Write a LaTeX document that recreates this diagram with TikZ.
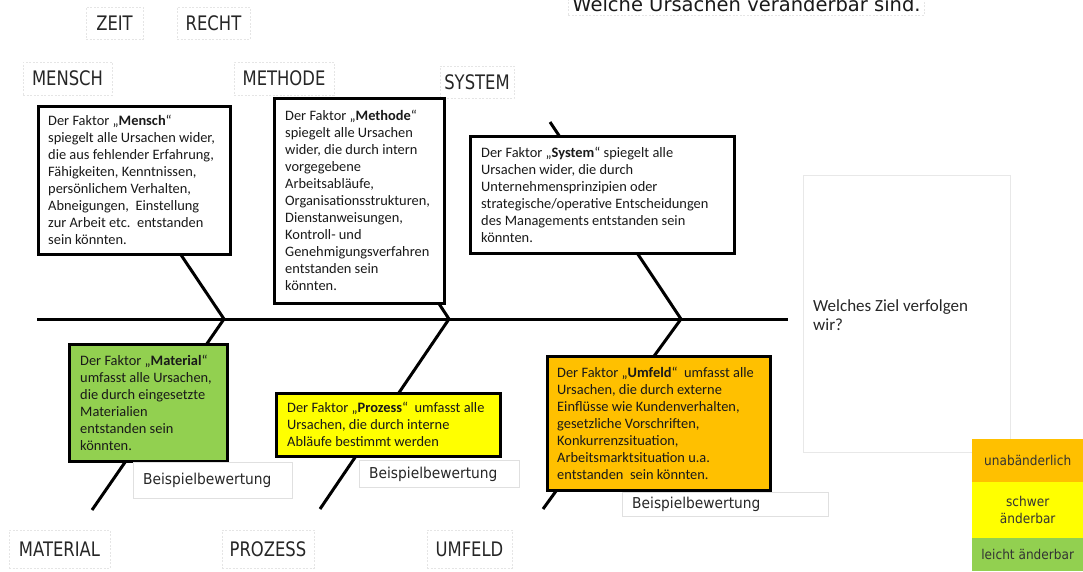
\documentclass[tikz,border=0pt]{standalone}
\usepackage{fontspec}
\setmainfont{Carlito}
\newfontfamily\labfont[FakeStretch=0.82]{DejaVu Sans}
\newfontfamily\bwfont[FakeStretch=0.92]{DejaVu Sans}
\newfontfamily\legfont[FakeStretch=0.9]{DejaVu Sans}
\newfontfamily\topfont{DejaVu Sans}
\definecolor{matgreen}{HTML}{92D050}
\definecolor{proyellow}{HTML}{FFFF00}
\definecolor{umforange}{HTML}{FFC000}
\tikzset{
  bone/.style={line width=3pt, black},
  fbox/.style={draw=black, line width=2.6pt, rectangle, inner sep=0pt, anchor=north west, fill=white},
  btext/.style={anchor=west, align=left, inner sep=0pt, text=black!90, font=\fontsize{14.4}{17}\selectfont},
  lab/.style={draw=black!10, line width=0.8pt, dash pattern=on 2pt off 1.5pt, rectangle, inner sep=0pt, text=black!85, font=\labfont\fontsize{20}{20}\selectfont},
  bwbox/.style={draw=black!12, line width=0.8pt, rectangle, inner sep=0pt, anchor=north west},
  bwtext/.style={anchor=west, inner sep=0pt, text=black!85, font=\bwfont\fontsize{15}{17}\selectfont},
  leg/.style={rectangle, inner sep=0pt, anchor=north west, minimum width=111pt, align=center, text=black!80, font=\legfont\fontsize{13.5}{17}\selectfont},
}
\begin{document}
\begin{tikzpicture}[x=1pt,y=-1pt]
\useasboundingbox (0,0) rectangle (1083,571);
% title (cut off at top, as in the reference)
\node[anchor=base west, draw=black!10, line width=0.8pt, dash pattern=on 2pt off 1.5pt, inner sep=4pt, font=\topfont\fontsize{19.5}{20}\selectfont, text=black!90] (ttl) at (568,11) {Welche Ursachen veränderbar sind.};
% spine and bones
\coordinate (sL) at (37,319);
\coordinate (sR) at (788,319);
\coordinate (j1) at (224,319);
\coordinate (j2) at (449,319);
\coordinate (j3) at (681,319);
\coordinate (u1) at (171,240);
\coordinate (u2) at (430,290);
\coordinate (u3) at (550,122);
\coordinate (l1) at (92,510);
\coordinate (l2) at (320,509);
\coordinate (l3) at (543,509);
\draw[bone] (sL) -- (sR);
\draw[bone] (u1) -- (j1) -- (l1);
\draw[bone] (u2) -- (j2) -- (l2);
\draw[bone] (u3) -- (j3) -- (l3);
% category labels
\node[lab, minimum width=57pt, minimum height=32pt] (zeit) at (114.5,23) {ZEIT};
\node[lab, minimum width=73pt, minimum height=32pt] (recht) at (213.5,23) {RECHT};
\node[lab, minimum width=89pt, minimum height=33pt] (menschl) at (67.5,78.5) {MENSCH};
\node[lab, minimum width=100pt, minimum height=33pt] (methodel) at (284,78.5) {METHODE};
\node[lab, minimum width=74pt, minimum height=32pt] (systeml) at (477,82) {SYSTEM};
\node[lab, minimum width=101pt, minimum height=38pt] (materiall) at (59.5,549) {MATERIAL};
\node[lab, minimum width=92pt, minimum height=38pt] (prozessl) at (268,549) {PROZESS};
\node[lab, minimum width=85pt, minimum height=38pt] (umfeldl) at (469.5,549) {UMFELD};
% Mensch
\node[fbox, minimum width=192pt, minimum height=148pt] (mensch) at (37,105) {};
\node[btext] (menscht) at ([xshift=11pt]mensch.west) {Der Faktor „\textbf{Mensch}“\\spiegelt alle Ursachen wider,\\die aus fehlender Erfahrung,\\Fähigkeiten, Kenntnissen,\\persönlichem Verhalten,\\Abneigungen,\ \ Einstellung\\zur Arbeit etc.\ \ entstanden\\sein könnten.};
% Methode
\node[fbox, minimum width=170pt, minimum height=205pt] (methode) at (273,97) {};
\node[btext] (methodet) at ([xshift=12pt]methode.west) {Der Faktor „\textbf{Methode}“\\spiegelt alle Ursachen\\wider, die durch intern\\vorgegebene\\Arbeitsabläufe,\\Organisationsstrukturen,\\Dienstanweisungen,\\Kontroll- und\\Genehmigungsverfahren\\entstanden sein\\könnten.};
% System
\node[fbox, minimum width=264pt, minimum height=117pt] (system) at (469,135) {};
\node[btext] (systemt) at ([xshift=12pt]system.west) {Der Faktor „\textbf{System}“ spiegelt alle\\Ursachen wider, die durch\\Unternehmensprinzipien oder\\strategische/operative Entscheidungen\\des Managements entstanden sein\\könnten.};
% Material
\node[fbox, fill=matgreen, minimum width=158pt, minimum height=117pt] (material) at (68,343) {};
\node[btext] (materialt) at ([xshift=12pt]material.west) {Der Faktor „\textbf{Material}“\\umfasst alle Ursachen,\\die durch eingesetzte\\Materialien\\entstanden sein\\könnten.};
% Prozess
\node[fbox, fill=proyellow, minimum width=224pt, minimum height=63pt] (prozess) at (275,392) {};
\node[btext] (prozesst) at ([xshift=12pt]prozess.west) {Der Faktor „\textbf{Prozess}“\ \ umfasst alle\\Ursachen, die durch interne\\Abläufe bestimmt werden};
% Umfeld
\node[fbox, fill=umforange, minimum width=223pt, minimum height=134pt] (umfeld) at (546,355) {};
\node[btext] (umfeldt) at ([xshift=11pt]umfeld.west) {Der Faktor „\textbf{Umfeld}“\ \ umfasst alle\\Ursachen, die durch externe\\Einflüsse wie Kundenverhalten,\\gesetzliche Vorschriften,\\Konkurrenzsituation,\\Arbeitsmarktsituation u.a.\\entstanden\ \ sein könnten.};
% Beispielbewertung boxes
\node[bwbox, minimum width=159pt, minimum height=36pt] (bw1) at (133,462) {};
\node[bwtext] (bw1t) at ([xshift=10pt]bw1.west) {Beispielbewertung};
\node[bwbox, minimum width=160pt, minimum height=27pt] (bw2) at (359,460) {};
\node[bwtext] (bw2t) at ([xshift=10pt]bw2.west) {Beispielbewertung};
\node[bwbox, minimum width=206pt, minimum height=24pt] (bw3) at (622,492) {};
\node[bwtext] (bw3t) at ([xshift=10pt]bw3.west) {Beispielbewertung};
% goal box
\node[bwbox, draw=black!9, line width=1pt, minimum width=207pt, minimum height=277pt] (ziel) at (803,175) {};
\node[anchor=west, align=left, inner sep=0pt, text=black!85, font=\fontsize{17}{19}\selectfont] (zielt) at (813,315) {Welches Ziel verfolgen\\wir?};
% legend
\node[leg, fill=umforange, minimum height=43pt] (leg1) at (972,439) {unabänderlich};
\node[leg, fill=proyellow, minimum height=56pt] (leg2) at (972,482) {schwer\\änderbar};
\node[leg, fill=matgreen, minimum height=33pt] (leg3) at (972,538) {leicht änderbar};
\end{tikzpicture}
\end{document}
